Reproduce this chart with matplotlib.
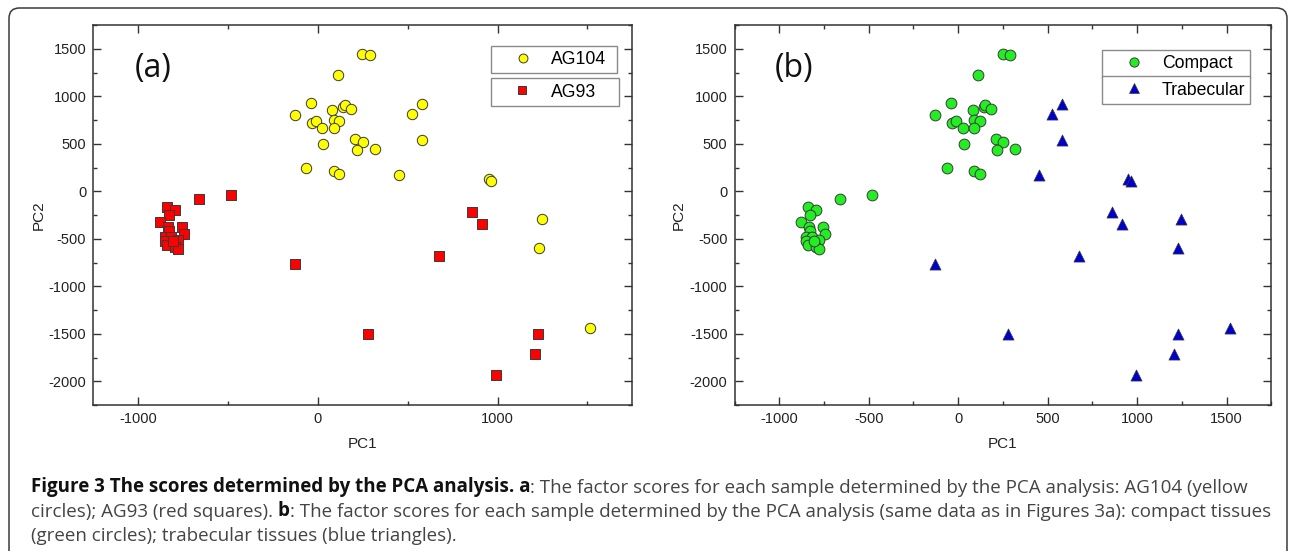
"""
PCA score plots, two panels:
  (a) AG104 vs AG93
  (b) same samples split into compact / trabecular tissue
Saves out.png
"""
import matplotlib
matplotlib.use('Agg')
import matplotlib.pyplot as plt
from matplotlib.ticker import MultipleLocator
from matplotlib.patches import FancyBboxPatch
from matplotlib.lines import Line2D

# ─── DATA ───
ag104_pc1 = [248, 291, 113, -38, -128, 81, 142, 150, 185, -34, -12, 87, 120, 25, 90,
             209, 252, 31, 218, 320, -65, 87, 120,
             449, 526, 580, 580, 950, 963, 1245, 1230, 1517]
ag104_pc2 = [1445, 1431, 1227, 929, 806, 855, 890, 905, 862, 722, 739, 750, 739, 662, 669,
             550, 518, 501, 438, 448, 241, 213, 182,
             174, 816, 918, 536, 126, 111, -289, -601, -1443]

ag93_pc1 = [-840, -795, -830, -877, -834, -756, -827, -743, -851, -817, -776, -853, -841,
            -795, -780, -808,
            -661, -481, -128, 280, 675, 859, 915, 1226, 1208, 993]
ag93_pc2 = [-166, -197, -247, -320, -380, -380, -418, -450, -478, -485, -513, -524, -566,
            -583, -608, -520,
            -80, -38, -762, -1503, -685, -218, -348, -1500, -1717, -1934]

compact_pc1 = [248, 291, 113, -38, -128, 81, 142, 150, 185, -34, -12, 87, 120, 25, 90,
               209, 252, 31, 218, 320, -65, 87, 120,
               -840, -795, -830, -877, -834, -756, -827, -743, -851, -817, -776, -853,
               -841, -795, -780, -808, -661, -481]
compact_pc2 = [1445, 1431, 1227, 929, 806, 855, 890, 905, 862, 722, 739, 750, 739, 662, 669,
               550, 518, 501, 438, 448, 241, 213, 182,
               -166, -197, -247, -320, -380, -380, -418, -450, -478, -485, -513, -524,
               -566, -583, -608, -520, -80, -38]

trab_pc1 = [449, 526, 580, 580, 950, 963, 1245, 1230, 1517,
            -128, 280, 675, 859, 915, 1226, 1208, 993]
trab_pc2 = [174, 816, 918, 536, 126, 111, -289, -601, -1443,
            -762, -1503, -685, -218, -348, -1500, -1717, -1934]

caption_lines = [
    [("Figure 3 The scores determined by the PCA analysis. a", 'bold', 0),
     (": The factor scores for each sample determined by the PCA analysis: AG104 (yellow", 'normal', 0)],
    [("circles); AG93 (red squares).", 'normal', 0),
     ("b", 'bold', 3.5),
     (": The factor scores for each sample determined by the PCA analysis (same data as in Figures 3a): compact tissues", 'normal', 0)],
    [("(green circles); trabecular tissues (blue triangles).", 'normal', 0)],
]

# ─── FIGURE ───
W, H = 1292, 551
plt.rcParams['font.family'] = ['Liberation Sans', 'DejaVu Sans']
plt.rcParams['axes.unicode_minus'] = False
fig = plt.figure(figsize=(W / 100, H / 100), dpi=100)
fig.patch.set_facecolor('white')

# rounded frame around the whole figure
frame = FancyBboxPatch((9 / W, -40 / H), (1287 - 9) / W, (543 + 40) / H,
                       boxstyle="round,pad=0,rounding_size=0.008",
                       transform=fig.transFigure, fill=False,
                       edgecolor='#3a3a3a', linewidth=1.1, mutation_aspect=W / H)
fig.patches.append(frame)


def px_axes(left, top, right, bottom):
    return fig.add_axes([left / W, 1 - bottom / H, (right - left) / W, (bottom - top) / H])


def style(ax, xmajor, xminor):
    ax.set_xlim(-1250, 1750)
    ax.set_ylim(-2250, 1750)
    ax.xaxis.set_major_locator(MultipleLocator(xmajor))
    ax.xaxis.set_minor_locator(MultipleLocator(xminor))
    ax.yaxis.set_major_locator(MultipleLocator(500))
    ax.yaxis.set_minor_locator(MultipleLocator(250))
    ax.tick_params(which='both', direction='in', top=True, right=True,
                   color='#333333', width=1.0, labelsize=10.5, labelcolor='#222222', pad=5)
    ax.tick_params(which='major', length=5.5)
    ax.tick_params(which='minor', length=3)
    for sp in ax.spines.values():
        sp.set_color('#333333')
        sp.set_linewidth(1.1)
    ax.set_xlabel('PC1', fontsize=11, color='#222222')
    ax.set_ylabel('PC2', fontsize=11, color='#222222')
    ax.xaxis.set_label_coords(0.5, -0.085)


def box_legend(ax, handle, label, left, top, right, bottom, first):
    leg = ax.legend(handles=[handle], labels=[label], loc='upper left', mode='expand',
                    bbox_to_anchor=(left / W, 1 - bottom / H, (right - left) / W, (bottom - top) / H),
                    bbox_transform=fig.transFigure, borderaxespad=0, borderpad=0.3,
                    handlelength=3.0, handletextpad=0.1, fontsize=12.7,
                    fancybox=False, framealpha=1, edgecolor='#8a8a8a')
    leg.get_frame().set_linewidth(1.0)
    if first:
        ax.add_artist(leg)
    return leg


edge = '#3a3a3a'

# panel a
ax_a = px_axes(93.3, 25, 632.3, 405)
ax_a.scatter(ag104_pc1, ag104_pc2, s=56, c='#ffff00', edgecolors=edge, linewidths=0.7, zorder=3)
ax_a.scatter(ag93_pc1, ag93_pc2, s=42, c='#ff0000', marker='s', edgecolors=edge, linewidths=0.7, zorder=3)
style(ax_a, 1000, 500)
ax_a.yaxis.set_label_coords(-0.088, 0.5)
h1 = Line2D([], [], ls='none', marker='o', ms=6.4, mfc='#ffff00', mec=edge, mew=0.7)
h2 = Line2D([], [], ls='none', marker='s', ms=5.7, mfc='#ff0000', mec=edge, mew=0.7)
box_legend(ax_a, h1, 'AG104', 491, 45.7, 617, 74, True)
box_legend(ax_a, h2, 'AG93', 490.6, 78.3, 618.6, 105.3, False)
fig.text(153 / W, 1 - 69 / H, '(a)', family='Open Sans', fontsize=23,
         ha='center', va='center', color='#111111')

# panel b
ax_b = px_axes(734.5, 25, 1271.4, 405)
ax_b.scatter(compact_pc1, compact_pc2, s=60, c='#22ee22', edgecolors=edge, linewidths=0.7, zorder=3)
ax_b.scatter(trab_pc1, trab_pc2, s=64, c='#0000cc', marker='^', edgecolors=edge, linewidths=0.5, zorder=3)
style(ax_b, 500, 250)
ax_b.yaxis.set_label_coords(-0.09, 0.5)
h3 = Line2D([], [], ls='none', marker='o', ms=6.6, mfc='#22ee22', mec=edge, mew=0.7)
h4 = Line2D([], [], ls='none', marker='^', ms=7, mfc='#0000cc', mec=edge, mew=0.5)
box_legend(ax_b, h3, 'Compact', 1102, 50, 1249.5, 73.3, True)
box_legend(ax_b, h4, 'Trabecular', 1102, 76.3, 1249.5, 99.3, False)
fig.text(794 / W, 1 - 69 / H, '(b)', family='Open Sans', fontsize=23,
         ha='center', va='center', color='#111111')

# caption, built run by run so bold and regular pieces sit on one line
cap_size = 13.5
baselines = [497, 521, 545]
for parts, yb in zip(caption_lines, baselines):
    prev = None
    for s, w, gap in parts:
        col = '#111111' if w == 'bold' else '#444444'
        kw = dict(fontsize=cap_size, fontweight=w, family='Open Sans', color=col, va='bottom')
        if prev is None:
            prev = fig.text(31 / W, 1 - yb / H, s, **kw)
        else:
            prev = plt.annotate(s, xy=(1, 0), xycoords=prev, xytext=(gap, 0),
                                textcoords='offset points', ha='left',
                                annotation_clip=False, **kw)

fig.savefig('out.png', dpi=100, facecolor='white')
